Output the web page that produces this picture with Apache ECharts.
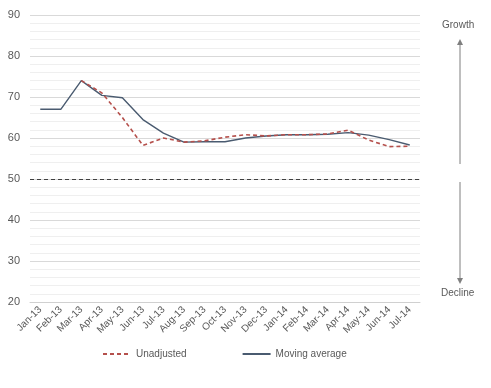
<!DOCTYPE html>
<html><head><meta charset="utf-8">
<script src="https://cdn.jsdelivr.net/npm/echarts@6/dist/echarts.min.js"></script>
<style>html,body{margin:0;padding:0;background:#fff}#c{width:491px;height:388px}</style>
</head><body><div id="c"></div>
<script>
var categories = ['Jan-13','Feb-13','Mar-13','Apr-13','May-13','Jun-13','Jul-13','Aug-13','Sep-13','Oct-13','Nov-13','Dec-13','Jan-14','Feb-14','Mar-14','Apr-14','May-14','Jun-14','Jul-14'];
var unadjusted = [null, null, 74, 71, 65, 58.2, 60, 59, 59.3, 60.2, 60.8, 60.5, 60.8, 60.8, 61, 61.9, 59.5, 57.9, 58];
var movingAverage = [67, 67, 74, 70.4, 69.8, 64.5, 61.2, 59, 59.1, 59.1, 60, 60.5, 60.8, 60.8, 60.9, 61.3, 60.7, 59.6, 58.3];
var yTicks = {min: 20, max: 90, interval: 10};
var thresholdValue = 50;

var chart = echarts.init(document.getElementById('c'), null, {renderer: 'canvas'});
var txt = '#595959';
chart.setOption({
  animation: false,
  textStyle: {fontFamily: 'Liberation Sans, Arial, sans-serif'},
  grid: {left: 30, right: 71, top: 15, bottom: 86, containLabel: false},
  xAxis: {
    type: 'category', data: categories, boundaryGap: true,
    axisLine: {show: true, lineStyle: {color: '#d0d0d0'}},
    axisTick: {show: false},
    axisLabel: {rotate: 45, color: txt, fontSize: 10, margin: 6, interval: 0}
  },
  yAxis: {
    type: 'value', min: yTicks.min, max: yTicks.max, interval: yTicks.interval,
    axisLine: {show: false}, axisTick: {show: false},
    axisLabel: {color: txt, fontSize: 11, margin: 10},
    splitLine: {lineStyle: {color: '#d9d9d9', width: 1}},
    minorTick: {show: false, splitNumber: 5},
    minorSplitLine: {show: true, lineStyle: {color: '#efefef', width: 1}}
  },
  legend: {
    bottom: 24, left: 97, itemWidth: 28, itemHeight: 10, itemGap: 55,
    textStyle: {color: txt, fontSize: 10},
    itemStyle: {color: 'rgba(0,0,0,0)', borderWidth: 0},
    data: ['Unadjusted', 'Moving average']
  },
  series: [
    {
      name: 'Unadjusted', type: 'line', data: unadjusted, symbol: 'none',
      lineStyle: {color: '#B5504C', width: 1.6, type: [4, 3]},
      itemStyle: {color: '#B5504C'}, z: 3,
      markLine: {
        silent: true, symbol: 'none', label: {show: false},
        lineStyle: {color: '#404040', width: 1.2, type: [4, 3]},
        data: [{yAxis: thresholdValue}]
      }
    },
    {
      name: 'Moving average', type: 'line', data: movingAverage, symbol: 'none',
      lineStyle: {color: '#4A5B70', width: 1.4},
      itemStyle: {color: '#4A5B70'}, z: 2
    }
  ],
  graphic: [
    {type: 'text', left: 442, top: 20, style: {text: 'Growth', fill: txt, font: '10px Liberation Sans, Arial, sans-serif'}},
    {type: 'line', shape: {x1: 460, y1: 164, x2: 460, y2: 44}, style: {stroke: '#7f7f7f', lineWidth: 1}},
    {type: 'polygon', shape: {points: [[457, 45], [463, 45], [460, 39]]}, style: {fill: '#7f7f7f'}},
    {type: 'line', shape: {x1: 460, y1: 182, x2: 460, y2: 279}, style: {stroke: '#7f7f7f', lineWidth: 1}},
    {type: 'polygon', shape: {points: [[457, 278], [463, 278], [460, 284]]}, style: {fill: '#7f7f7f'}},
    {type: 'text', left: 441, top: 288, style: {text: 'Decline', fill: txt, font: '10px Liberation Sans, Arial, sans-serif'}}
  ]
});
</script></body></html>
